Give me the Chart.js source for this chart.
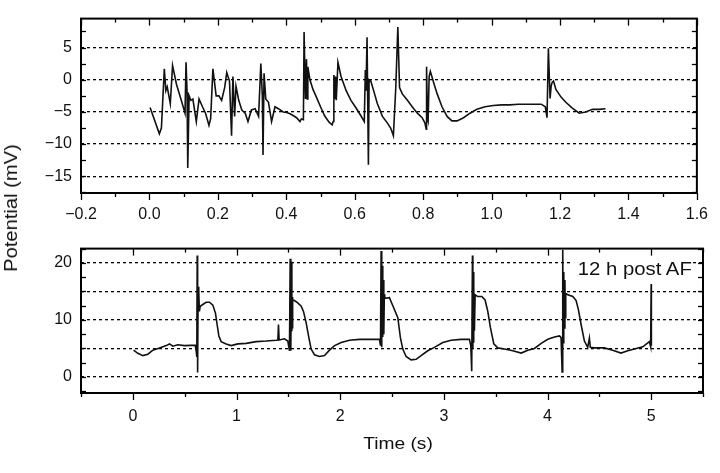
<!DOCTYPE html>
<html>
<head>
<meta charset="utf-8">
<script src="https://cdn.jsdelivr.net/npm/chart.js@4"></script>
<style>
  html, body { margin: 0; padding: 0; background: #fff; }
  #wrap { position: relative; width: 720px; height: 473px; overflow: hidden; font-family: "Liberation Sans", Arial, sans-serif; color: #111; }
  canvas { position: absolute; left: 0; }
  .lbl { position: absolute; line-height: 1; white-space: nowrap; }
</style>
</head>
<body>
<div id="wrap">
  <canvas id="topChart" width="720" height="230" style="top:0"></canvas>
  <canvas id="bottomChart" width="720" height="243" style="top:230px"></canvas>
  <div class="lbl" style="left:11px; top:208px; font-size:18px; transform: translate(-50%,-50%) rotate(-90deg) scaleX(1.12);">Potential (mV)</div>
  <div class="lbl" style="left:398px; top:435px; font-size:17px; transform: translateX(-50%) scaleX(1.13);">Time (s)</div>
  <div class="lbl" style="left:572px; top:258px; padding:2px 0 2px 5px; background:#fff; font-size:18px; transform-origin: left top; transform: scaleX(1.13);">12 h post AF</div>
</div>
<script>
// top trace: time (s) and potential (mV)
const topTime = [
  0.002, 0.029, 0.035, 0.0435, 0.048, 0.052, 0.061, 0.0676, 0.079, 0.092,
  0.104, 0.107, 0.110, 0.112, 0.116, 0.121, 0.127, 0.137, 0.145, 0.155,
  0.164, 0.174, 0.179, 0.1855, 0.195, 0.203, 0.211, 0.220, 0.226, 0.234,
  0.240, 0.244, 0.249, 0.253, 0.261, 0.270, 0.280, 0.288, 0.298, 0.309,
  0.319, 0.3256, 0.330, 0.332, 0.335, 0.340, 0.348, 0.357, 0.367, 0.377,
  0.391, 0.401, 0.411, 0.421, 0.430, 0.440, 0.444, 0.450, 0.452, 0.456,
  0.459, 0.461, 0.463, 0.469, 0.478, 0.488, 0.500, 0.512, 0.525, 0.534,
  0.537, 0.539, 0.542, 0.544, 0.546, 0.551, 0.560, 0.575, 0.589, 0.604,
  0.618, 0.628, 0.631, 0.633, 0.636, 0.640, 0.642, 0.647, 0.657, 0.666,
  0.681, 0.695, 0.705, 0.713, 0.720, 0.726, 0.731, 0.739, 0.754, 0.768,
  0.783, 0.797, 0.805, 0.809, 0.810, 0.8125, 0.8145, 0.8175, 0.821, 0.831,
  0.841, 0.855, 0.870, 0.884, 0.899, 0.918, 0.937, 0.957, 0.981, 1.005,
  1.030, 1.053, 1.078, 1.101, 1.125, 1.145, 1.157, 1.162, 1.166, 1.169,
  1.171, 1.174, 1.177, 1.181, 1.188, 1.203, 1.217, 1.236, 1.256, 1.275,
  1.295, 1.314, 1.333
];
const topPotential = [
  -4.3, -8.4, -7.5, 1.7, -1.7, -1.1, -3.7, 2.2, -0.7, -3.0,
  -5.2, 2.7, -2.0, -13.7, -2.5, -3.2, -3.0, -6.5, -3.0, -4.2,
  -5.2, -7.1, -6.0, 1.7, -2.5, -2.5, -3.2, -1.2, 1.1, -0.2,
  -8.7, 0.5, -5.7, -1.0, -3.2, -4.7, -5.2, -6.5, -4.7, -4.5,
  -5.7, 2.5, -2.5, -11.7, 1.0, -3.0, -3.5, -6.5, -4.2, -4.5,
  -5.0, -5.1, -5.3, -5.6, -5.9, -6.5, -6.1, -6.2, 7.4, -3.0,
  3.2, -3.0, 2.0, 0.0, -1.5, -2.7, -4.2, -5.6, -6.6, -7.0,
  -6.5, 0.75, -3.0, 0.5, -3.2, 2.7, 0.5, -1.7, -3.2, -4.4,
  -5.6, -6.5, 1.5, -1.7, 6.6, -13.2, 0.0, -0.2, -2.0, -3.7,
  -5.7, -6.7, -7.5, -8.7, -1.2, 8.2, -1.2, -2.2, -3.2, -4.2,
  -5.2, -5.9, -6.7, -7.7, 2.0, -6.0, -6.4, 0.5, 1.3, -0.5,
  -2.2, -4.2, -5.7, -6.4, -6.4, -5.9, -5.2, -4.6, -4.2, -4.0,
  -3.9, -3.9, -3.8, -3.8, -3.8, -3.8, -4.2, -5.9, 4.9, 0.0,
  -2.9, -1.0, -0.4, -0.2, -1.5, -2.7, -3.5, -4.4, -5.2, -5.0,
  -4.6, -4.6, -4.5
];

// bottom trace: time (s) and potential (mV)
const bottomTime = [
  0.007, 0.048, 0.097, 0.145, 0.193, 0.258, 0.322, 0.354, 0.386, 0.434,
  0.498, 0.563, 0.602, 0.611, 0.617, 0.621, 0.625, 0.630, 0.634, 0.638,
  0.642, 0.650, 0.675, 0.707, 0.739, 0.772, 0.797, 0.813, 0.830, 0.852,
  0.900, 0.949, 1.013, 1.093, 1.190, 1.286, 1.383, 1.399, 1.405, 1.411,
  1.463, 1.495, 1.511, 1.518, 1.524, 1.530, 1.534, 1.537, 1.540, 1.543,
  1.559, 1.591, 1.624, 1.646, 1.672, 1.698, 1.720, 1.752, 1.800, 1.849,
  1.897, 1.946, 2.010, 2.090, 2.187, 2.282, 2.379, 2.389, 2.395, 2.401,
  2.406, 2.411, 2.416, 2.421, 2.426, 2.430, 2.475, 2.510, 2.556, 2.581,
  2.604, 2.636, 2.684, 2.733, 2.781, 2.845, 2.909, 2.990, 3.070, 3.166,
  3.247, 3.260, 3.269, 3.276, 3.280, 3.283, 3.287, 3.290, 3.295, 3.302,
  3.327, 3.366, 3.398, 3.424, 3.450, 3.482, 3.520, 3.585, 3.665, 3.746,
  3.810, 3.874, 3.939, 4.003, 4.067, 4.116, 4.131, 4.141, 4.147, 4.152,
  4.157, 4.163, 4.168, 4.172, 4.176, 4.196, 4.244, 4.276, 4.298, 4.324,
  4.356, 4.388, 4.404, 4.413, 4.452, 4.548, 4.629, 4.709, 4.774, 4.838,
  4.919, 4.983, 4.995, 5.000, 5.002
];
const bottomPotential = [
  4.7, 4.15, 3.75, 4.0, 4.7, 5.1, 5.5, 5.8, 5.4, 5.65,
  5.5, 5.55, 5.55, 4.6, 3.5, 21.3, 0.8, 15.8, 11.8, 15.0,
  11.5, 12.4, 12.7, 13.1, 13.1, 12.6, 11.2, 9.2, 7.2, 6.2,
  5.8, 5.5, 5.8, 5.9, 6.2, 6.3, 6.45, 6.5, 9.2, 6.5,
  6.7, 6.3, 4.6, 20.7, 4.6, 20.2, 8.0, 14.0, 8.5, 13.5,
  13.4, 13.0, 12.4, 11.5, 9.5, 6.9, 4.9, 3.9, 3.6, 3.75,
  4.7, 5.5, 6.05, 6.45, 6.6, 6.6, 6.6, 5.5, 22.1, 5.2,
  19.5, 7.0, 17.0, 7.5, 14.5, 13.8, 13.9, 12.4, 10.4, 6.9,
  4.9, 3.6, 3.0, 3.1, 3.75, 4.6, 5.2, 6.05, 6.45, 6.6,
  6.6, 5.5, 1.0, 21.3, 5.0, 18.4, 6.0, 16.0, 8.1, 14.4,
  14.1, 14.1, 13.5, 11.5, 8.6, 5.8, 5.1, 4.9, 4.6, 4.2,
  4.7, 5.0, 5.9, 6.6, 7.0, 7.2, 6.9, 0.9, 22.3, 6.0,
  18.4, 8.6, 17.0, 10.4, 14.7, 14.4, 14.1, 13.4, 11.8, 9.2,
  6.3, 5.2, 6.8, 5.2, 5.1, 5.1, 4.7, 4.2, 4.6, 4.9,
  5.3, 6.2, 5.3, 16.3, 5.5
];

// axis ranges and tick labels
const topXRange = [-0.2, 1.6];
const topYRange = [-17.6, 9.5];
const topXLabels = [-0.2, 0.0, 0.2, 0.4, 0.6, 0.8, 1.0, 1.2, 1.4, 1.6];
const topYLabels = [5, 0, -5, -10, -15];
const topYGrid = [5, 0, -5, -10, -15];

const bottomXRange = [-0.5, 5.5];
const bottomYRange = [-2.8, 22.5];
const bottomXLabels = [0, 1, 2, 3, 4, 5];
const bottomYLabels = [0, 10, 20];
const bottomYGrid = [0, 5, 10, 15, 20];

const FONT = "'Liberation Sans', Arial, sans-serif";

function hasValue(list, v) {
  return list.some(a => Math.abs(a - v) < 1e-6);
}

function fmt(v, digits) {
  const s = v.toFixed(digits);
  return s.charAt(0) === '-' ? '\u2212' + s.slice(1) : s;
}

// frame and inward/outward tick marks drawn from the chart's scales
const frameTicks = {
  id: 'frameTicks',
  afterDraw(chart, args, opts) {
    const ctx = chart.ctx;
    const a = chart.chartArea;
    const xs = chart.scales.x;
    const ys = chart.scales.y;
    const seg = (x1, y1, x2, y2) => {
      ctx.beginPath();
      ctx.moveTo(x1, y1);
      ctx.lineTo(x2, y2);
      ctx.stroke();
    };
    ctx.save();
    ctx.strokeStyle = '#000';
    ctx.lineWidth = 1.3;
    xs.ticks.forEach(t => {
      const px = Math.round(xs.getPixelForValue(t.value)) + 0.5;
      const major = hasValue(opts.xMajor, t.value);
      const len = major ? opts.majorLen : opts.minorLen;
      seg(px, a.bottom, px, a.bottom + len);
      seg(px, a.top, px, a.top + len);
    });
    ys.ticks.forEach(t => {
      const py = Math.round(ys.getPixelForValue(t.value)) + 0.5;
      seg(a.left, py, a.left + 5, py);
      seg(a.right, py, a.right - 5, py);
    });
    ctx.lineWidth = 2;
    ctx.strokeRect(a.left, a.top, a.right - a.left, a.bottom - a.top);
    ctx.restore();
  }
};

function makeChart(id, cfg) {
  const points = cfg.time.map((t, i) => ({ x: t, y: cfg.potential[i] }));
  return new Chart(document.getElementById(id), {
    type: 'line',
    data: {
      datasets: [{
        data: points,
        borderColor: '#111',
        borderWidth: 1.6,
        pointRadius: 0,
        tension: 0,
        fill: false
      }]
    },
    options: {
      responsive: false,
      animation: false,
      events: [],
      layout: { padding: cfg.padding },
      plugins: {
        legend: { display: false },
        tooltip: { enabled: false },
        frameTicks: { xMajor: cfg.xLabels, majorLen: 7, minorLen: 4 }
      },
      scales: {
        x: {
          type: 'linear',
          min: cfg.xRange[0],
          max: cfg.xRange[1],
          afterFit: s => { s.height = cfg.xHeight; },
          grid: { display: false, drawTicks: false },
          border: { display: false },
          ticks: {
            stepSize: cfg.xStep,
            autoSkip: false,
            maxRotation: 0,
            includeBounds: false,
            padding: cfg.xPad,
            color: '#111',
            font: { family: FONT, size: 16 },
            callback: v => hasValue(cfg.xLabels, v) ? fmt(v, cfg.xDigits) : ''
          }
        },
        y: {
          type: 'linear',
          min: cfg.yRange[0],
          max: cfg.yRange[1],
          afterFit: s => { s.width = 81; },
          grid: {
            drawTicks: false,
            lineWidth: 1.3,
            color: c => hasValue(cfg.yGrid, c.tick.value) ? '#000' : 'rgba(0,0,0,0)'
          },
          border: { display: false, dash: [3, 3] },
          ticks: {
            stepSize: 2.5,
            autoSkip: false,
            includeBounds: false,
            padding: 9,
            color: '#111',
            font: { family: FONT, size: 16 },
            callback: v => hasValue(cfg.yLabels, v) ? fmt(v, 0) : ''
          }
        }
      }
    },
    plugins: [frameTicks]
  });
}

makeChart('topChart', {
  time: topTime, potential: topPotential,
  xRange: topXRange, yRange: topYRange,
  xLabels: topXLabels, yLabels: topYLabels, yGrid: topYGrid,
  xStep: 0.1, xDigits: 1, xPad: 12, xHeight: 37,
  padding: { top: 12, right: 18, left: 0, bottom: 0 }
});

makeChart('bottomChart', {
  time: bottomTime, potential: bottomPotential,
  xRange: bottomXRange, yRange: bottomYRange,
  xLabels: bottomXLabels, yLabels: bottomYLabels, yGrid: bottomYGrid,
  xStep: 0.5, xDigits: 0, xPad: 14, xHeight: 80,
  padding: { top: 16.7, right: 17, left: 0, bottom: 0 }
});
</script>
</body>
</html>
